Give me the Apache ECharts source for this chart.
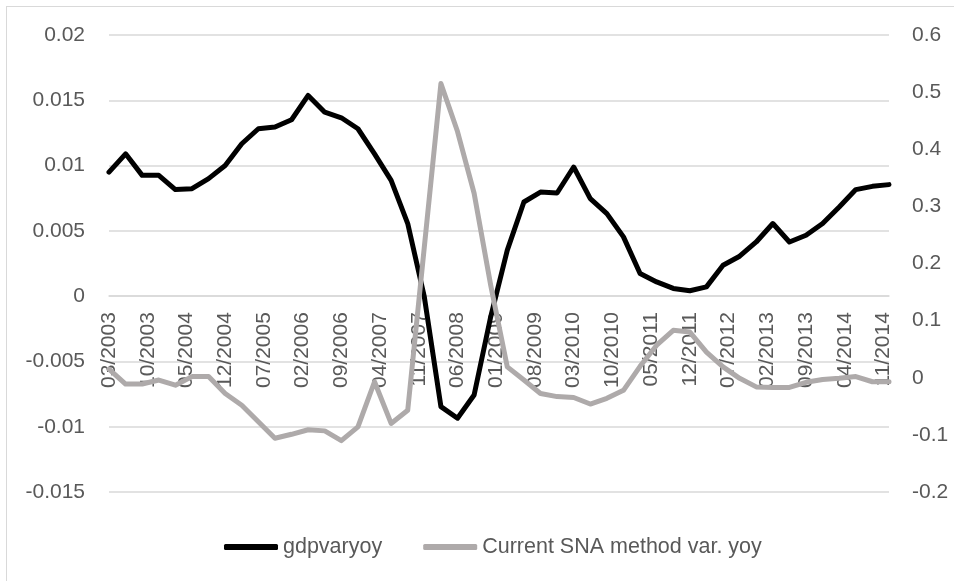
<!DOCTYPE html>
<html>
<head>
<meta charset="utf-8">
<script src="https://cdn.jsdelivr.net/npm/echarts@6/dist/echarts.min.js"></script>
<style>
    html, body { margin: 0; padding: 0; background: #fff; }
    #frame { position: absolute; left: 6px; top: 6px; width: 960px; height: 590px;
             border-left: 1px solid #d9d9d9; border-top: 1px solid #d9d9d9; }
    #chart { position: absolute; left: 0; top: 0; width: 954px; height: 581px; }
</style>
</head>
<body>
<div id="frame"></div>
<div id="chart"></div>
<script>
// quarterly observations
var dates = [
    '03/2003', '06/2003', '09/2003', '12/2003', '03/2004', '06/2004', '09/2004', '12/2004',
    '03/2005', '06/2005', '09/2005', '12/2005', '03/2006', '06/2006', '09/2006', '12/2006',
    '03/2007', '06/2007', '09/2007', '12/2007', '03/2008', '06/2008', '09/2008', '12/2008',
    '03/2009', '06/2009', '09/2009', '12/2009', '03/2010', '06/2010', '09/2010', '12/2010',
    '03/2011', '06/2011', '09/2011', '12/2011', '03/2012', '06/2012', '09/2012', '12/2012',
    '03/2013', '06/2013', '09/2013', '12/2013', '03/2014', '06/2014', '09/2014', '12/2014'
];
var gdpvaryoy = [
    0.0095, 0.0109, 0.00925, 0.00925, 0.00816, 0.00823, 0.0090, 0.0100,
    0.01167, 0.01282, 0.01295, 0.01351, 0.01537, 0.01409, 0.01366, 0.01282,
    0.0109, 0.00887, 0.00556, -0.00005, -0.00846, -0.00935, -0.00757, -0.00158,
    0.00352, 0.00721, 0.00797, 0.0079, 0.00989, 0.00747, 0.00632, 0.00454,
    0.00173, 0.00109, 0.00059, 0.00041, 0.00071, 0.00237, 0.00306, 0.00415,
    0.00556, 0.00415, 0.00466, 0.00556, 0.00683, 0.00816, 0.00841, 0.00854
];
var snaVaryoy = [
    0.015, -0.011, -0.011, -0.004, -0.013, 0.002, 0.002, -0.0275,
    -0.048, -0.077, -0.106, -0.099, -0.091, -0.093, -0.110, -0.086,
    -0.007, -0.080, -0.057, 0.229, 0.515, 0.431, 0.323, 0.162,
    0.019, -0.004, -0.0275, -0.033, -0.0345, -0.046, -0.036, -0.022,
    0.020, 0.057, 0.083, 0.080, 0.045, 0.019, -0.001, -0.016,
    -0.017, -0.017, -0.008, -0.003, -0.001, 0.002, -0.007, -0.007
];
var seriesNames = ['gdpvaryoy', 'Current SNA method var. yoy'];
var leftTicks = { min: -0.015, max: 0.02, step: 0.005 };
var rightTicks = { min: -0.2, max: 0.6, step: 0.1 };

// months counted from 03/2003
function monthIndex(s) {
    var p = s.split('/');
    return (parseInt(p[1], 10) - 2003) * 12 + parseInt(p[0], 10) - 3;
}
function monthLabel(v) {
    if (v % 7 !== 0) return '';
    var m = v + 2; // zero-based month from Jan 2003
    var mm = (m % 12) + 1;
    var yy = 2003 + Math.floor(m / 12);
    return (mm < 10 ? '0' : '') + mm + '/' + yy;
}
function pairs(vals) {
    return vals.map(function (v, i) { return [monthIndex(dates[i]), v]; });
}

var font = 'Liberation Sans';
var textColor = '#595959';
var labelSize = 21;
var gridTop = 35, gridBottom = 89, chartH = 581;
// the date axis sits where the left axis crosses zero
var plotH = chartH - gridTop - gridBottom;
var zeroOffset = -plotH * (0 - leftTicks.min) / (leftTicks.max - leftTicks.min);

var chart = echarts.init(document.getElementById('chart'));
var option = {
    animation: false,
    textStyle: { fontFamily: font },
    grid: { left: 109, right: 65, top: gridTop, bottom: gridBottom },
    legend: {
        data: seriesNames,
        left: 219,
        top: 531,
        icon: 'roundRect',
        itemWidth: 54,
        itemHeight: 6,
        itemGap: 41,
        textStyle: { fontFamily: font, fontSize: 21.5, color: textColor }
    },
    xAxis: {
        type: 'value',
        min: 0,
        max: monthIndex(dates[dates.length - 1]),
        interval: 7,
        offset: zeroOffset,
        axisLine: { onZero: false, lineStyle: { color: '#d9d9d9', width: 1.5 } },
        axisTick: { show: false },
        splitLine: { show: false },
        axisLabel: {
            rotate: 90,
            margin: 16,
            showMaxLabel: false,
            fontFamily: font,
            fontSize: labelSize,
            color: textColor,
            formatter: monthLabel
        }
    },
    yAxis: [
        {
            type: 'value',
            min: leftTicks.min,
            max: leftTicks.max,
            interval: leftTicks.step,
            axisLine: { show: false, onZero: false },
            axisTick: { show: false },
            splitLine: { lineStyle: { color: '#d9d9d9', width: 1.5 } },
            axisLabel: { margin: 24, fontFamily: font, fontSize: labelSize, color: textColor }
        },
        {
            type: 'value',
            min: rightTicks.min,
            max: rightTicks.max,
            interval: rightTicks.step,
            alignTicks: false,
            axisLine: { show: false, onZero: false },
            axisTick: { show: false },
            splitLine: { show: false },
            axisLabel: { margin: 23, fontFamily: font, fontSize: labelSize, color: textColor }
        }
    ],
    series: [
        {
            name: seriesNames[0],
            type: 'line',
            yAxisIndex: 0,
            data: pairs(gdpvaryoy),
            showSymbol: false,
            symbol: 'none',
            itemStyle: { color: '#000000' },
            lineStyle: { color: '#000000', width: 5, cap: 'round', join: 'round' }
        },
        {
            name: seriesNames[1],
            type: 'line',
            yAxisIndex: 1,
            data: pairs(snaVaryoy),
            showSymbol: false,
            symbol: 'none',
            itemStyle: { color: '#aeaaaa' },
            lineStyle: { color: '#aeaaaa', width: 5, cap: 'round', join: 'round' }
        }
    ]
};
chart.setOption(option);
</script>
</body>
</html>
